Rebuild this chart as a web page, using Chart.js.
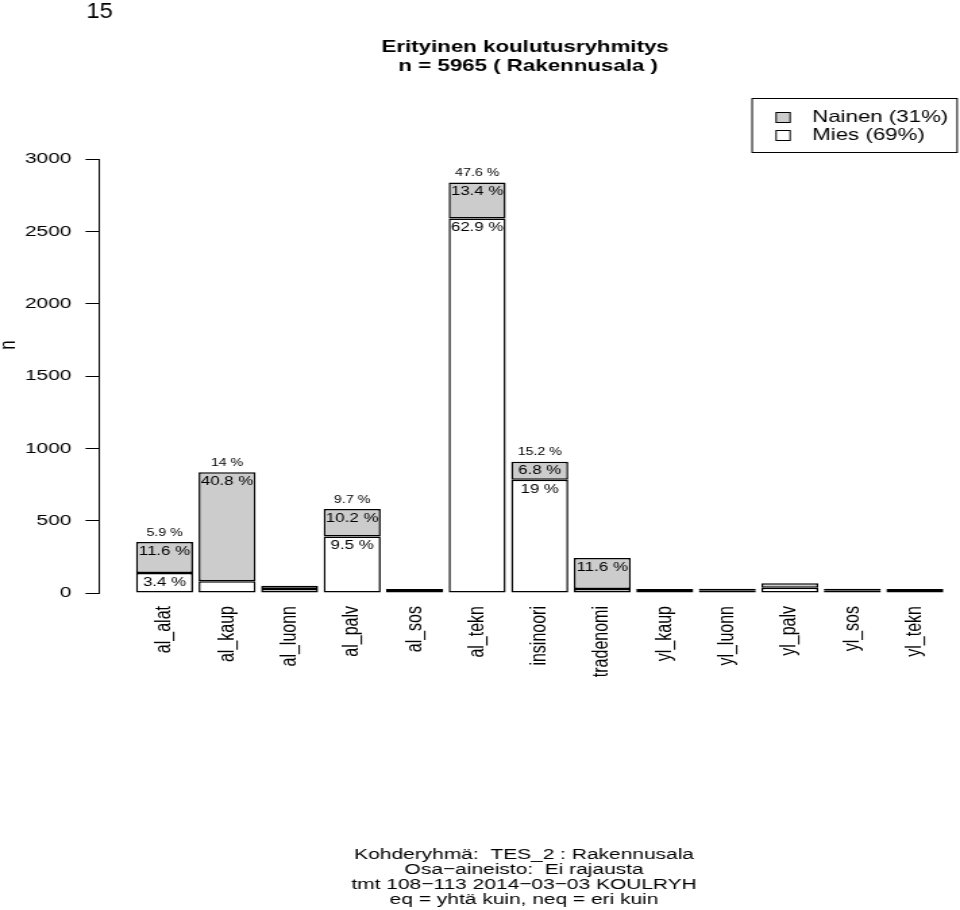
<!DOCTYPE html>
<html>
<head>
<meta charset="utf-8">
<script src="https://cdn.jsdelivr.net/npm/chart.js@4"></script>
<style>
  html, body { margin: 0; padding: 0; background: #fff; overflow: hidden; }
  #wrap { position: absolute; left: 0; top: 0; height: 910px; transform-origin: 0 0; }
</style>
</head>
<body>
<div id="wrap"><canvas id="chart"></canvas></div>
<script>
// ---- data ----
const categories = ["al_alat", "al_kaup", "al_luonn", "al_palv", "al_sos", "al_tekn", "insinoori",
  "tradenomi", "yl_kaup", "yl_luonn", "yl_palv", "yl_sos", "yl_tekn"];
const mies   = [138, 81, 28, 391, 5, 2589, 782, 28, 4, 16, 37, 15, 14];
const nainen = [214, 754, 22, 189, 6, 248, 126, 214, 5, 10, 30, 12, 6];

// labels printed on the bars (share of men, share of women, share of all)
const miesPct   = ["3.4 %", null, null, "9.5 %", null, "62.9 %", "19 %", null, null, null, null, null, null];
const nainenPct = ["11.6 %", "40.8 %", null, "10.2 %", null, "13.4 %", "6.8 %", "11.6 %", null, null, null, null, null];
const totalPct  = ["5.9 %", "14 %", null, "9.7 %", null, "47.6 %", "15.2 %", null, null, null, null, null, null];

const yTicks = [0, 500, 1000, 1500, 2000, 2500, 3000];
const legendLabels = ["Mies (69%)", "Nainen (31%)"];

const titleLines = ["Erityinen koulutusryhmitys", " n = 5965 ( Rakennusala )"];
const footerLines = [
  "Kohderyhmä:  TES_2 : Rakennusala",
  "Osa\u2212aineisto:  Ei rajausta",
  "tmt 108\u2212113 2014\u221203\u221203 KOULRYH",
  "eq = yhtä kuin, neq = eri kuin"
];
const pageNo = "15";

// ---- layout (the picture is stretched sideways, so draw narrow and scale) ----
const SX = 1.35;
const CW = Math.round(960 / SX);
const X = v => v / SX;
const wrap = document.getElementById("wrap");
wrap.style.width = CW + "px";
wrap.style.transform = `scaleX(${960 / CW})`;

const FONT = "'Liberation Sans', Arial, Helvetica, sans-serif";
Chart.defaults.font.family = FONT;
Chart.defaults.color = "#000";

const textPlugin = {
  id: "rtext",
  afterDatasetsDraw(chart) {
    const ctx = chart.ctx;
    const m = chart.getDatasetMeta(0).data;
    const n = chart.getDatasetMeta(1).data;
    ctx.save();
    ctx.fillStyle = "#000";
    ctx.textAlign = "center";
    categories.forEach((c, i) => {
      ctx.font = `12.5px ${FONT}`;
      ctx.textBaseline = "top";
      if (miesPct[i]) ctx.fillText(miesPct[i], m[i].x, m[i].y + 3);
      if (nainenPct[i]) ctx.fillText(nainenPct[i], n[i].x, n[i].y + 3);
      ctx.font = `10.5px ${FONT}`;
      ctx.textBaseline = "bottom";
      if (totalPct[i]) ctx.fillText(totalPct[i], n[i].x, n[i].y - 4);
    });
    ctx.restore();
  },
  afterDraw(chart) {
    const ctx = chart.ctx;
    ctx.save();
    ctx.fillStyle = "#000";
    ctx.textAlign = "center";
    ctx.textBaseline = "middle";

    // page number, in a narrow face
    ctx.save();
    ctx.translate(X(99.5), 11.5);
    ctx.scale(0.8, 1);
    ctx.font = `22px ${FONT}`;
    ctx.fillText(pageNo, 0, 0);
    ctx.restore();

    ctx.font = `bold 16.5px ${FONT}`;
    ctx.fillText(titleLines[0], X(525), 47);
    ctx.fillText(titleLines[1], X(525), 66);

    ctx.font = `15.5px ${FONT}`;
    footerLines.forEach((t, i) => ctx.fillText(t, X(524), 855 + i * 15));

    // axis title
    ctx.save();
    ctx.translate(X(8), 345);
    ctx.rotate(-Math.PI / 2);
    ctx.font = `17px ${FONT}`;
    ctx.fillText("n", 0, 0);
    ctx.restore();

    // legend box
    ctx.strokeStyle = "#000";
    ctx.lineWidth = 1;
    ctx.strokeRect(X(752), 98.5, X(957) - X(752), 54);
    const ds = chart.data.datasets;
    [1, 0].forEach((k, j) => {
      const y = 117.5 + j * 18;
      ctx.fillStyle = ds[k].backgroundColor;
      ctx.fillRect(X(776), y - 5, X(790) - X(776), 10);
      ctx.strokeRect(X(776), y - 5, X(790) - X(776), 10);
      ctx.fillStyle = "#000";
      ctx.textAlign = "left";
      ctx.font = `16.5px ${FONT}`;
      ctx.fillText(ds[k].label, X(812), y);
    });
    ctx.restore();
  }
};

const toPoints = arr => arr.map((v, i) => ({ x: i, y: v }));

const barStyle = {
  borderColor: "#000",
  borderWidth: 1.5,
  borderSkipped: false,
  minBarLength: 2,
  categoryPercentage: 1,
  barPercentage: 0.912
};

new Chart(document.getElementById("chart"), {
  type: "bar",
  data: {
    datasets: [
      Object.assign({ label: legendLabels[0], data: toPoints(mies), backgroundColor: "#ffffff" }, barStyle),
      Object.assign({ label: legendLabels[1], data: toPoints(nainen), backgroundColor: "#cccccc" }, barStyle)
    ]
  },
  options: {
    responsive: true,
    maintainAspectRatio: false,
    animation: false,
    layout: { padding: { top: 159, right: CW - X(946), bottom: 0, left: 0 } },
    plugins: {
      legend: { display: false },
      title: { display: false },
      tooltip: { enabled: false }
    },
    scales: {
      x: {
        type: "linear",
        offset: false,
        stacked: true,
        min: -1.04,
        max: 12.5,
        grid: { display: false, drawTicks: false, offset: false },
        border: { display: false },
        afterBuildTicks: s => { s.ticks = categories.map((c, i) => ({ value: i })); },
        afterFit: s => { s.height = 910 - 593; },
        ticks: {
          autoSkip: false,
          minRotation: 90,
          maxRotation: 90,
          padding: 13,
          font: { size: 16 },
          callback: v => categories[v] ?? ""
        }
      },
      y: {
        stacked: true,
        min: 0,
        max: 3000,
        afterBuildTicks: s => { s.ticks = yTicks.map(v => ({ value: v })); },
        afterFit: s => { s.width = X(99.5); },
        grid: { drawOnChartArea: false, tickLength: X(14), tickColor: "#000", lineWidth: 1 },
        border: { display: true, color: "#000", width: 1 },
        ticks: { padding: X(14), font: { size: 15.5 }, callback: v => String(v) }
      }
    }
  },
  plugins: [textPlugin]
});
</script>
</body>
</html>
